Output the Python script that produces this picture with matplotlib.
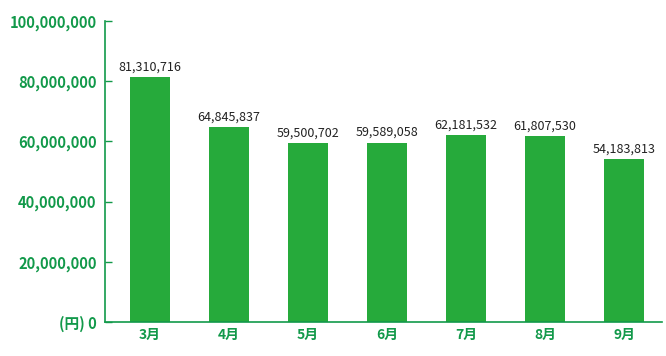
import matplotlib
matplotlib.use("Agg")
import matplotlib.pyplot as plt
from matplotlib.ticker import FuncFormatter

months = ["3月", "4月", "5月", "6月", "7月", "8月", "9月"]
values = [81310716, 64845837, 59500702, 59589058, 62181532, 61807530, 54183813]
yticks = [0, 20000000, 40000000, 60000000, 80000000, 100000000]

plt.rcParams['font.family'] = ['Noto Sans CJK JP', 'DejaVu Sans']

GREEN_TXT = "#12994a"
GREEN_BAR = "#26aa3b"

fig = plt.figure(figsize=(6.66, 3.56), dpi=100)
ax = fig.add_axes([105/666, 34/356, 557/666, 301/356])

x = list(range(len(months)))
ax.bar(x, values, width=0.506, color=GREEN_BAR, zorder=2)
for xi, v in zip(x, values):
    ax.text(xi, v + 1200000, f"{v:,}", ha="center", va="bottom",
            fontsize=9, color="#222222")

ax.set_ylim(0, 100000000)
ax.set_xlim(-0.57, 6.48)
ax.set_yticks(yticks)

def fmt(v, pos):
    if v == 0:
        return "(円) 0"
    return f"{int(v):,}"
ax.yaxis.set_major_formatter(FuncFormatter(fmt))
ax.set_xticks(x)
ax.set_xticklabels(months)

for lab in ax.get_yticklabels():
    lab.set_color(GREEN_TXT)
    lab.set_fontweight("bold")
    lab.set_fontsize(10.6)
for lab in ax.get_xticklabels():
    lab.set_color(GREEN_TXT)
    lab.set_fontweight("bold")
    lab.set_fontsize(10)

ax.tick_params(axis="y", direction="in", length=5, color=GREEN_TXT, width=1, pad=6)
ax.tick_params(axis="x", length=0, pad=4)

for s in ["top", "right"]:
    ax.spines[s].set_visible(False)
for s in ["left", "bottom"]:
    ax.spines[s].set_color(GREEN_TXT)
    ax.spines[s].set_linewidth(1.2)

fig.savefig("out.png", dpi=100)
